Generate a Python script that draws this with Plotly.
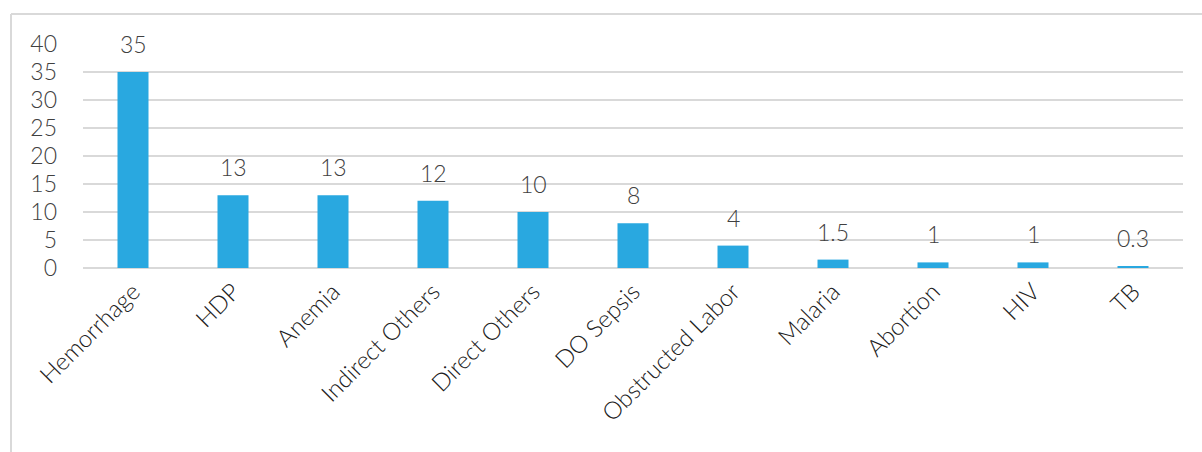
import plotly.graph_objects as go

# Causes and share values
causes = ["Hemorrhage", "HDP", "Anemia", "Indirect Others", "Direct Others",
          "DO Sepsis", "Obstructed Labor", "Malaria", "Abortion", "HIV", "TB"]
shares = [35, 13, 13, 12, 10, 8, 4, 1.5, 1, 1, 0.3]
y_ticks = [0, 5, 10, 15, 20, 25, 30, 35, 40]

W, H = 1202, 452
L, R, T, B = 83, 19, 44, 184

FONT = "Lato"
TXT = "#404040"

fig = go.Figure(go.Bar(
    x=causes, y=shares, marker=dict(color="#29A8E0", line=dict(width=0)),
    width=0.31, hoverinfo="x+y",
))

for c, v in zip(causes, shares):
    fig.add_annotation(x=c, y=v, text=f"{v:g}", showarrow=False,
                       yanchor="bottom", yshift=12,
                       font=dict(family=FONT, size=23, color=TXT, weight=300))

# outer chart frame (left and top edges)
pw = W - L - R
ph = H - T - B
fx = (11 - L) / pw
fy = 1 + (T - 14) / ph
fig.add_shape(type="line", xref="paper", yref="paper", x0=fx, x1=fx, y0=fy, y1=-10,
              line=dict(color="#d9d9d9", width=2))
fig.add_shape(type="line", xref="paper", yref="paper", x0=fx, x1=5, y0=fy, y1=fy,
              line=dict(color="#d9d9d9", width=2))

fig.update_layout(
    width=W, height=H, margin=dict(l=L, r=R, t=T, b=B),
    plot_bgcolor="white", paper_bgcolor="white", showlegend=False,
    font=dict(family=FONT, color=TXT, size=20, weight=300),
    xaxis=dict(tickangle=-45, showgrid=False, showline=False, ticks="",
               tickfont=dict(family=FONT, size=24, color="#202020", weight=300),
               ticklabelstandoff=4,
               range=[-0.5, len(causes) - 0.5]),
    yaxis=dict(range=[0, 40], tickvals=y_ticks, showgrid=True,
               gridcolor="#d9d9d9", gridwidth=2, zeroline=True,
               zerolinecolor="#d9d9d9", zerolinewidth=2, showline=False,
               ticks="", ticklabelstandoff=25,
               tickfont=dict(family=FONT, size=23, color=TXT, weight=300)),
)

fig.write_html("out.html")
